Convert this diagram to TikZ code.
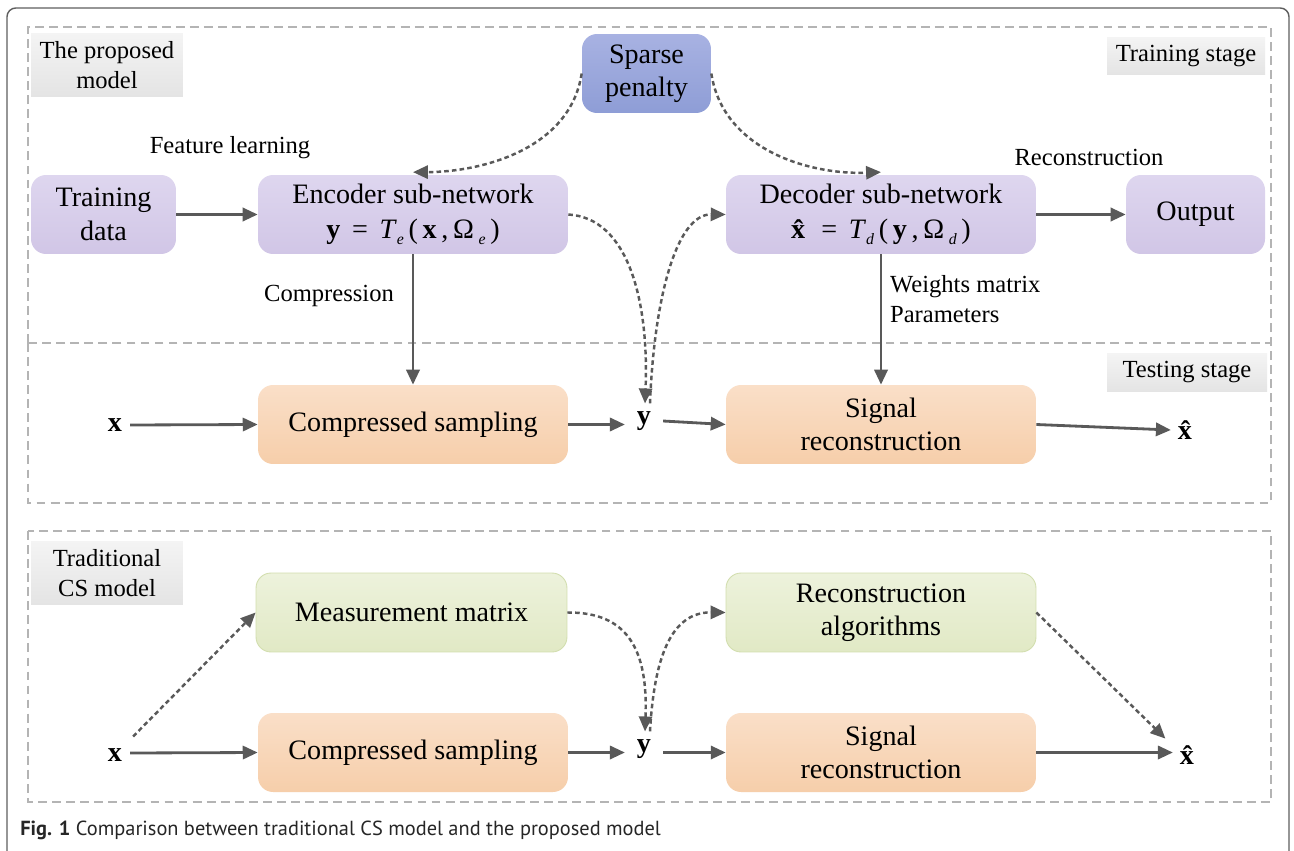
\documentclass[tikz,border=0pt]{standalone}
\usepackage{fontspec}
\setmainfont{Liberation Serif}
\newfontfamily\capfont{PT Sans}
\usetikzlibrary{arrows.meta}

\definecolor{arrowgray}{HTML}{595959}
\definecolor{framegray}{HTML}{5E5E5E}
\definecolor{dashgray}{HTML}{B4B4B4}
\definecolor{lavT}{HTML}{DED6EF}
\definecolor{lavB}{HTML}{D1C6E6}
\definecolor{blueT}{HTML}{A8B2E2}
\definecolor{blueB}{HTML}{8E9DD6}
\definecolor{peachT}{HTML}{FADFC8}
\definecolor{peachB}{HTML}{F6CEAA}
\definecolor{greenT}{HTML}{EDF2DC}
\definecolor{greenB}{HTML}{E1E9C5}
\definecolor{greenL}{HTML}{D2DEAE}
\definecolor{tagT}{HTML}{F4F4F4}
\definecolor{tagB}{HTML}{E4E4E4}

% subscripted operator text, e.g. T_e
\newcommand{\subsc}[1]{\raisebox{-0.45ex}{\fontsize{9}{9}\selectfont\itshape #1}}

\begin{document}
\begin{tikzpicture}[x=0.02cm,y=-0.02cm,
  box/.style={rounded corners=0.3cm, minimum width=6.2cm, minimum height=1.58cm,
    align=center, font=\fontsize{16}{19}\selectfont, inner sep=2pt},
  lav/.style={box, top color=lavT, bottom color=lavB},
  blu/.style={box, top color=blueT, bottom color=blueB},
  peach/.style={box, top color=peachT, bottom color=peachB},
  grn/.style={box, top color=greenT, bottom color=greenB, draw=greenL, line width=0.5pt},
  tag/.style={top color=tagT, bottom color=tagB, align=center, inner sep=1pt,
    font=\fontsize{14}{17}\selectfont},
  lbl/.style={font=\fontsize{14}{17}\selectfont, inner sep=1pt},
  var/.style={font=\fontsize{16}{19}\selectfont\bfseries, inner sep=1pt},
  stagebox/.style={draw=dashgray, line width=0.7pt, dash pattern=on 5pt off 3pt},
  arr/.style={draw=arrowgray, line width=1.6pt, -{Triangle[length=8.5pt,width=7.5pt]}},
  darr/.style={draw=arrowgray, line width=1.4pt, dash pattern=on 2.6pt off 1.8pt,
    -{Triangle[length=8.5pt,width=7.5pt]}}
]
\useasboundingbox (0,0) rectangle (1294,851);
\fill[white] (0,0) rectangle (1294,851);

% outer frame
\draw[framegray, line width=0.8pt, rounded corners=5pt] (7,851) -- (7,8) -- (1289,8) -- (1289,851);

% stage frames (the training frame shares its lower edge with the testing frame)
\draw[stagebox] (28,343) -- (28,27) -- (1271,27) -- (1271,343);
\draw[stagebox] (28,343) rectangle (1271,503);
\draw[stagebox] (28,531) rectangle (1271,802);

% stage tags
\node[tag, minimum width=3.04cm, minimum height=1.28cm] (tagprop) at (107,65) {The proposed\\model};
\node[tag, minimum width=3.16cm, minimum height=0.76cm] (tagtrain) at (1186,56) {Training stage};
\node[tag, minimum width=3.2cm, minimum height=0.78cm] (tagtest) at (1187,372.5) {Testing stage};
\node[tag, minimum width=3.04cm, minimum height=1.28cm] (tagtrad) at (107,573) {Traditional\\CS model};

% training stage
\node[blu, minimum width=2.58cm] (spar) at (646.5,73.5) {Sparse\\penalty};
\node[lav, minimum width=2.9cm] (train) at (103.5,214.5) {Training\\data};
\node[lav] (enc) at (413,214.5) {Encoder sub-network\\[1pt]
  \textbf{y}\, = \,\textit{T}\subsc{e}\,(\,\textbf{x}\,,\,Ω\,\subsc{e}\,)};
\node[lav] (dec) at (881,214.5) {Decoder sub-network\\[1pt]
  \textbf{\^{x}}\, = \,\textit{T}\subsc{d}\,(\,\textbf{y}\,,\,Ω\,\subsc{d}\,)};
\node[lav, minimum width=2.78cm] (out) at (1195.5,214.5) {Output};

\node[lbl] (feat) at (230,148) {Feature learning};
\node[lbl] (recl) at (1089,157) {Reconstruction};
\node[lbl] (comp) at (329,296) {Compression};
\node[lbl, align=left, anchor=west] (wts) at (888,299) {Weights matrix\\Parameters};

% testing stage
\node[var] (x1) at (115,425) {x};
\node[peach] (cs1) at (413,424.5) {Compressed sampling};
\node[var] (y1) at (644,421) {y};
\node[peach] (sr1) at (881,424.5) {Signal\\reconstruction};
\node[var] (xh1) at (1185,430) {\^{x}};

% traditional model
\node[var] (x2) at (115,755) {x};
\node[grn, minimum width=6.22cm] (mm) at (411.5,612.5) {Measurement matrix};
\node[grn] (ra) at (881,612.5) {Reconstruction\\algorithms};
\node[peach] (cs2) at (413,752.5) {Compressed sampling};
\node[var] (y2) at (644,749) {y};
\node[peach] (sr2) at (881,752.5) {Signal\\reconstruction};
\node[var] (xh2) at (1187,755) {\^{x}};

% caption
\node[anchor=west, inner sep=0pt, font=\capfont\fontsize{11.6}{13}\selectfont, text=black!85] (cap) at (20,830)
  {\textbf{Fig. 1} Comparison between traditional CS model and the proposed model};

% training connectors
\draw[arr] (train.east) -- (enc.west);
\draw[arr] (dec.east) -- (out.west);
\draw[arr] (enc.south) -- (cs1.north);
\draw[arr] (dec.south) -- (sr1.north);
\draw[darr] (spar.west) .. controls (570,150) and (480,172) .. ([yshift=0.05cm]enc.north);
\draw[darr] (spar.east) .. controls (723,150) and (810,175) .. ([yshift=0.05cm]dec.north);
\draw[darr] (enc.east) .. controls (628,218) and (649,300) .. ([xshift=0.02cm,yshift=0.12cm]y1.north);
\draw[darr] ([xshift=0.12cm,yshift=0.12cm]y1.north) .. controls (654,300) and (676,214) .. (dec.west);

% testing connectors
\draw[arr] (x1.east) ++(6,0) -- (cs1.west);
\draw[arr] (cs1.east) -- ([xshift=-0.2cm]y1.west |- cs1.east);
\draw[arr] ([xshift=0.2cm]y1.east) -- (sr1.west);
\draw[arr] (sr1.east) -- ([xshift=-0.1cm]xh1.west);

% traditional connectors
\draw[darr] ([xshift=0.18cm,yshift=0.2cm]x2.north east) -- (mm.west);
\draw[arr] (x2.east) ++(6,-2) -- (cs2.west);
\draw[darr] (mm.east) .. controls (628,612) and (648,650) .. ([xshift=0.02cm,yshift=0.12cm]y2.north);
\draw[darr] ([xshift=0.12cm,yshift=0.12cm]y2.north) .. controls (654,660) and (670,612) .. (ra.west);
\draw[darr] (ra.east) -- ([xshift=-0.25cm,yshift=0.1cm]xh2.north west);
\draw[arr] (cs2.east) -- ([xshift=-0.2cm]y2.west |- cs2.east);
\draw[arr] ([xshift=0.2cm]y2.east |- sr2.west) -- (sr2.west);
\draw[arr] (sr2.east) -- ([xshift=-0.1cm]xh2.west |- sr2.east);
\end{tikzpicture}
\end{document}
